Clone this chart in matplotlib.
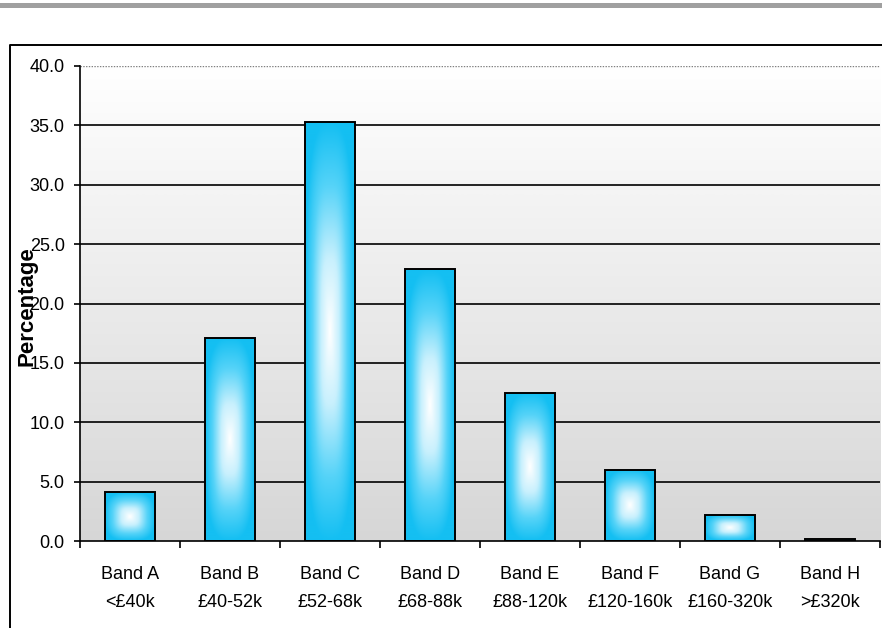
import numpy as np
import matplotlib
matplotlib.use('Agg')
import matplotlib.pyplot as plt
from matplotlib.colors import LinearSegmentedColormap
from matplotlib.patches import Rectangle
from matplotlib.lines import Line2D

# Council tax bands and share of dwellings in each
bands = ['Band A', 'Band B', 'Band C', 'Band D', 'Band E', 'Band F', 'Band G', 'Band H']
ranges = ['<£40k', '£40-52k', '£52-68k', '£68-88k', '£88-120k', '£120-160k', '£160-320k', '>£320k']
percent = [4.1, 17.1, 35.3, 22.9, 12.5, 6.0, 2.2, 0.2]
yticks = [0, 5, 10, 15, 20, 25, 30, 35, 40]

plt.rcParams['font.family'] = ['Liberation Sans', 'DejaVu Sans']

W, H = 882, 628
fig = plt.figure(figsize=(W / 100, H / 100), dpi=100)
ax = fig.add_axes([80 / W, 1 - 541 / H, 800 / W, 475 / H])

x = np.arange(len(bands))
ax.set_xlim(-0.5, len(bands) - 0.5)
ax.set_ylim(0, 40)

# background: white at the top fading to light grey at the bottom
bg = np.linspace(0.84, 1.0, 256).reshape(-1, 1)
ax.imshow(np.dstack([bg, bg, bg]), extent=(-0.5, len(bands) - 0.5, 0, 40),
          origin='lower', aspect='auto', zorder=0, interpolation='bilinear')

# horizontal gridlines
for v in yticks[1:-1]:
    ax.axhline(v, color='black', lw=1.2, zorder=1)
ax.axhline(40, color='#808080', lw=1.0, ls=(0, (1, 1)), zorder=1)

# bars with a rounded centre-out gradient, cyan edges to white middle
cmap = LinearSegmentedColormap.from_list(
    'cyanwhite', [(0, '#ffffff'), (0.35, '#c8f0fd'), (0.7, '#55d3f8'), (1, '#14bff2')])
bars = ax.bar(x, percent, width=0.5, facecolor='none', edgecolor='black', lw=1.4, zorder=3)
gx, gy = np.meshgrid(np.linspace(-1, 1, 200), np.linspace(-1, 1, 200))
grad = np.clip((np.abs(gx) ** 3 + np.abs(gy) ** 3) ** (1 / 3), 0, 1)
for b in bars:
    x0, y0 = b.get_x(), b.get_y()
    im = ax.imshow(grad, cmap=cmap, vmin=0, vmax=1, aspect='auto', zorder=2,
                   extent=(x0, x0 + b.get_width(), y0, y0 + b.get_height()),
                   interpolation='bilinear')
    im.set_clip_path(b)

for s in ['top', 'right']:
    ax.spines[s].set_visible(False)
ax.spines['left'].set_linewidth(1.2)
ax.spines['bottom'].set_linewidth(1.2)

ax.set_yticks(yticks)
ax.set_yticklabels([f'{v:.1f}' for v in yticks], fontsize=13)
ax.tick_params(axis='y', length=4, width=1.2, pad=7, direction='out')

# ticks between categories, labels centred under each bar
ax.set_xticks(np.arange(-0.5, len(bands) + 0.5, 1))
ax.set_xticklabels([])
ax.tick_params(axis='x', which='major', length=5, width=1.2, direction='out')
ax.set_xticks(x, minor=True)
ax.set_xticklabels([f'{b}\n{r}' for b, r in zip(bands, ranges)], minor=True,
                   fontsize=13, linespacing=1.85)
ax.tick_params(axis='x', which='minor', length=0, pad=18)

fig.text(27 / W, 1 - 306 / H, 'Percentage', rotation=90, ha='center', va='center',
         fontsize=16, fontweight='bold')

# grey strip across the top and the outer chart frame
fig.patches.append(Rectangle((0, 1 - 7.5 / H), 1, 4.5 / H, transform=fig.transFigure,
                             facecolor='#a0a0a0', edgecolor='none'))
fig.lines.append(Line2D([10 / W, 10 / W, 1], [0, 1 - 45 / H, 1 - 45 / H],
                        transform=fig.transFigure, color='black', lw=1.4))

fig.savefig('out.png', dpi=100)
